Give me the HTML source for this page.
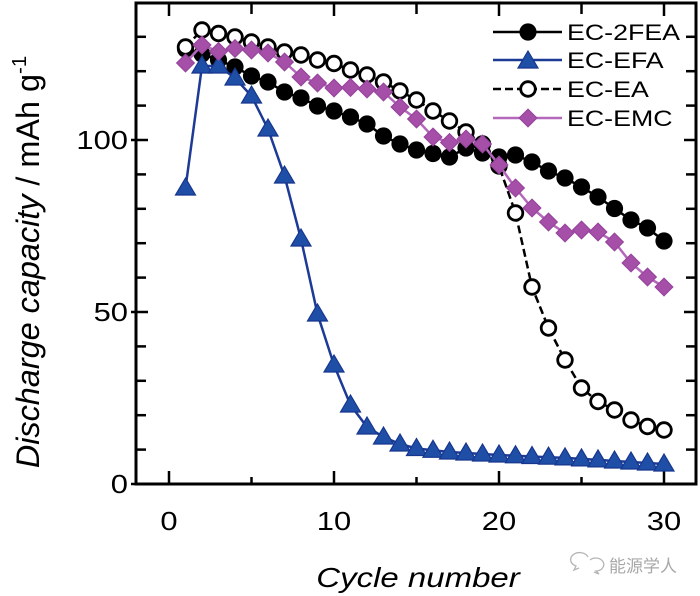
<!DOCTYPE html>
<html><head><meta charset="utf-8"><style>
html,body{margin:0;padding:0;background:#fff;}
svg{display:block;}
text{font-family:"Liberation Sans",Arial,sans-serif;fill:#000;}
</style></head><body>
<svg width="700" height="596" viewBox="0 0 700 596" xmlns="http://www.w3.org/2000/svg">
<defs>
<g id="bc"><circle r="8.6" fill="#000"/></g>
<g id="oc"><circle r="7.3" fill="#fff" stroke="#000" stroke-width="2.8"/></g>
<g id="tr"><polygon points="0,-10 10,7 -10,7" fill="#1f4ea6" stroke="#16368e" stroke-width="1.2"/></g>
<g id="dm"><polygon points="0,-8.8 8.8,0 0,8.8 -8.8,0" fill="#a64fa9" stroke="#97449d" stroke-width="1.2"/></g>
</defs>
<rect x="136" y="3" width="560" height="481" fill="none" stroke="#000" stroke-width="3"/>
<g stroke="#000" stroke-width="2.5">
<line x1="169" y1="484" x2="169" y2="471"/><line x1="251.5" y1="484" x2="251.5" y2="477"/><line x1="334" y1="484" x2="334" y2="471"/><line x1="416.5" y1="484" x2="416.5" y2="477"/><line x1="499" y1="484" x2="499" y2="471"/><line x1="581.5" y1="484" x2="581.5" y2="477"/><line x1="664" y1="484" x2="664" y2="471"/>
<line x1="169" y1="3" x2="169" y2="16"/><line x1="251.5" y1="3" x2="251.5" y2="14"/><line x1="334" y1="3" x2="334" y2="16"/><line x1="416.5" y1="3" x2="416.5" y2="14"/><line x1="499" y1="3" x2="499" y2="16"/><line x1="581.5" y1="3" x2="581.5" y2="14"/><line x1="664" y1="3" x2="664" y2="16"/>
<line x1="131" y1="484" x2="148" y2="484"/><line x1="136" y1="449.6" x2="146" y2="449.6"/><line x1="136" y1="415.2" x2="146" y2="415.2"/><line x1="136" y1="380.8" x2="146" y2="380.8"/><line x1="136" y1="346.4" x2="146" y2="346.4"/><line x1="131" y1="312" x2="148" y2="312"/><line x1="136" y1="277.6" x2="146" y2="277.6"/><line x1="136" y1="243.2" x2="146" y2="243.2"/><line x1="136" y1="208.8" x2="146" y2="208.8"/><line x1="136" y1="174.4" x2="146" y2="174.4"/><line x1="131" y1="140" x2="148" y2="140"/><line x1="136" y1="105.6" x2="146" y2="105.6"/><line x1="136" y1="71.2" x2="146" y2="71.2"/><line x1="136" y1="36.8" x2="146" y2="36.8"/>
<line x1="696" y1="449.6" x2="686" y2="449.6"/><line x1="696" y1="415.2" x2="686" y2="415.2"/><line x1="696" y1="380.8" x2="686" y2="380.8"/><line x1="696" y1="346.4" x2="686" y2="346.4"/><line x1="696" y1="312" x2="684" y2="312"/><line x1="696" y1="277.6" x2="686" y2="277.6"/><line x1="696" y1="243.2" x2="686" y2="243.2"/><line x1="696" y1="208.8" x2="686" y2="208.8"/><line x1="696" y1="174.4" x2="686" y2="174.4"/><line x1="696" y1="140" x2="684" y2="140"/><line x1="696" y1="105.6" x2="686" y2="105.6"/><line x1="696" y1="71.2" x2="686" y2="71.2"/><line x1="696" y1="36.8" x2="686" y2="36.8"/>
</g>
<g font-size="26">
<g transform="translate(128,493) scale(1.19,1)"><text text-anchor="end">0</text></g>
<g transform="translate(128,321) scale(1.19,1)"><text text-anchor="end">50</text></g>
<g transform="translate(128,149) scale(1.19,1)"><text text-anchor="end">100</text></g>
<g transform="translate(169,530) scale(1.19,1)"><text text-anchor="middle">0</text></g>
<g transform="translate(334,530) scale(1.19,1)"><text text-anchor="middle">10</text></g>
<g transform="translate(499,530) scale(1.19,1)"><text text-anchor="middle">20</text></g>
<g transform="translate(664,530) scale(1.19,1)"><text text-anchor="middle">30</text></g>
</g>
<g transform="translate(418,587) scale(1.2,1)"><text text-anchor="middle" font-size="27.5" font-style="italic">Cycle number</text></g>
<g transform="translate(39,262) scale(1.19,1.2) rotate(-90)"><text text-anchor="middle" font-size="27"><tspan font-style="italic">Discharge capacity</tspan> / mAh g<tspan font-size="17" dy="-11">-1</tspan></text></g>
<polyline fill="none" stroke="#000" stroke-width="2.5" points="185.5,49 202,54 218.5,60 235,67 251.5,76 268,82 284.5,92 301,98 317.5,106 334,111 350.5,117 367,124 383.5,136 400,144 416.5,150 433,153.5 449.5,157 466,148 482.5,153 499,157 515.5,155 532,162 548.5,171 565,178 581.5,187 598,197 614.5,208.5 631,220 647.5,228 664,241"/>
<use href="#bc" x="185.5" y="49"/><use href="#bc" x="202" y="54"/><use href="#bc" x="218.5" y="60"/><use href="#bc" x="235" y="67"/><use href="#bc" x="251.5" y="76"/><use href="#bc" x="268" y="82"/><use href="#bc" x="284.5" y="92"/><use href="#bc" x="301" y="98"/><use href="#bc" x="317.5" y="106"/><use href="#bc" x="334" y="111"/><use href="#bc" x="350.5" y="117"/><use href="#bc" x="367" y="124"/><use href="#bc" x="383.5" y="136"/><use href="#bc" x="400" y="144"/><use href="#bc" x="416.5" y="150"/><use href="#bc" x="433" y="153.5"/><use href="#bc" x="449.5" y="157"/><use href="#bc" x="466" y="148"/><use href="#bc" x="482.5" y="153"/><use href="#bc" x="499" y="157"/><use href="#bc" x="515.5" y="155"/><use href="#bc" x="532" y="162"/><use href="#bc" x="548.5" y="171"/><use href="#bc" x="565" y="178"/><use href="#bc" x="581.5" y="187"/><use href="#bc" x="598" y="197"/><use href="#bc" x="614.5" y="208.5"/><use href="#bc" x="631" y="220"/><use href="#bc" x="647.5" y="228"/><use href="#bc" x="664" y="241"/>
<polyline fill="none" stroke="#1c3a96" stroke-width="2.5" points="185.5,188 202,66 218.5,66 235,78 251.5,96 268,129 284.5,176 301,239 317.5,314 334,365 350.5,405 367,427 383.5,437 400,444 416.5,448.5 433,450.3 449.5,452 466,453 482.5,454 499,455 515.5,455.8 532,456.5 548.5,457.2 565,457.9 581.5,458.9 598,459.9 614.5,461 631,462 647.5,463 664,464"/>
<use href="#tr" x="185.5" y="188"/><use href="#tr" x="202" y="66"/><use href="#tr" x="218.5" y="66"/><use href="#tr" x="235" y="78"/><use href="#tr" x="251.5" y="96"/><use href="#tr" x="268" y="129"/><use href="#tr" x="284.5" y="176"/><use href="#tr" x="301" y="239"/><use href="#tr" x="317.5" y="314"/><use href="#tr" x="334" y="365"/><use href="#tr" x="350.5" y="405"/><use href="#tr" x="367" y="427"/><use href="#tr" x="383.5" y="437"/><use href="#tr" x="400" y="444"/><use href="#tr" x="416.5" y="448.5"/><use href="#tr" x="433" y="450.3"/><use href="#tr" x="449.5" y="452"/><use href="#tr" x="466" y="453"/><use href="#tr" x="482.5" y="454"/><use href="#tr" x="499" y="455"/><use href="#tr" x="515.5" y="455.8"/><use href="#tr" x="532" y="456.5"/><use href="#tr" x="548.5" y="457.2"/><use href="#tr" x="565" y="457.9"/><use href="#tr" x="581.5" y="458.9"/><use href="#tr" x="598" y="459.9"/><use href="#tr" x="614.5" y="461"/><use href="#tr" x="631" y="462"/><use href="#tr" x="647.5" y="463"/><use href="#tr" x="664" y="464"/>
<polyline fill="none" stroke="#000" stroke-width="2.5" stroke-dasharray="8,4" points="185.5,47 202,30 218.5,33.5 235,37 251.5,42 268,47 284.5,52 301,55 317.5,60 334,63.5 350.5,70 367,75 383.5,82 400,91 416.5,100 433,111 449.5,121 466,132 482.5,144 499,166 515.5,213 532,287 548.5,328 565,360 581.5,388 598,401.5 614.5,410 631,420 647.5,426.5 664,430"/>
<use href="#oc" x="185.5" y="47"/><use href="#oc" x="202" y="30"/><use href="#oc" x="218.5" y="33.5"/><use href="#oc" x="235" y="37"/><use href="#oc" x="251.5" y="42"/><use href="#oc" x="268" y="47"/><use href="#oc" x="284.5" y="52"/><use href="#oc" x="301" y="55"/><use href="#oc" x="317.5" y="60"/><use href="#oc" x="334" y="63.5"/><use href="#oc" x="350.5" y="70"/><use href="#oc" x="367" y="75"/><use href="#oc" x="383.5" y="82"/><use href="#oc" x="400" y="91"/><use href="#oc" x="416.5" y="100"/><use href="#oc" x="433" y="111"/><use href="#oc" x="449.5" y="121"/><use href="#oc" x="466" y="132"/><use href="#oc" x="482.5" y="144"/><use href="#oc" x="499" y="166"/><use href="#oc" x="515.5" y="213"/><use href="#oc" x="532" y="287"/><use href="#oc" x="548.5" y="328"/><use href="#oc" x="565" y="360"/><use href="#oc" x="581.5" y="388"/><use href="#oc" x="598" y="401.5"/><use href="#oc" x="614.5" y="410"/><use href="#oc" x="631" y="420"/><use href="#oc" x="647.5" y="426.5"/><use href="#oc" x="664" y="430"/>
<polyline fill="none" stroke="#b468bb" stroke-width="2.5" points="185.5,63 202,45 218.5,51.5 235,48.5 251.5,50 268,53 284.5,62 301,77 317.5,83 334,88 350.5,87.5 367,89 383.5,92 400,107 416.5,119 433,137 449.5,142.5 466,139 482.5,144 499,165 515.5,188 532,208 548.5,222 565,233 581.5,230 598,232 614.5,242 631,263 647.5,277 664,287"/>
<use href="#dm" x="185.5" y="63"/><use href="#dm" x="202" y="45"/><use href="#dm" x="218.5" y="51.5"/><use href="#dm" x="235" y="48.5"/><use href="#dm" x="251.5" y="50"/><use href="#dm" x="268" y="53"/><use href="#dm" x="284.5" y="62"/><use href="#dm" x="301" y="77"/><use href="#dm" x="317.5" y="83"/><use href="#dm" x="334" y="88"/><use href="#dm" x="350.5" y="87.5"/><use href="#dm" x="367" y="89"/><use href="#dm" x="383.5" y="92"/><use href="#dm" x="400" y="107"/><use href="#dm" x="416.5" y="119"/><use href="#dm" x="433" y="137"/><use href="#dm" x="449.5" y="142.5"/><use href="#dm" x="466" y="139"/><use href="#dm" x="482.5" y="144"/><use href="#dm" x="499" y="165"/><use href="#dm" x="515.5" y="188"/><use href="#dm" x="532" y="208"/><use href="#dm" x="548.5" y="222"/><use href="#dm" x="565" y="233"/><use href="#dm" x="581.5" y="230"/><use href="#dm" x="598" y="232"/><use href="#dm" x="614.5" y="242"/><use href="#dm" x="631" y="263"/><use href="#dm" x="647.5" y="277"/><use href="#dm" x="664" y="287"/>
<rect x="490" y="16" width="192" height="116" fill="#fff"/>
<line x1="493" y1="32" x2="562" y2="32" stroke="#000" stroke-width="2.5"/><use href="#bc" x="528" y="32"/>
<line x1="493" y1="60" x2="562" y2="60" stroke="#1c3a96" stroke-width="2.5"/><use href="#tr" x="528" y="61"/>
<line x1="493" y1="89" x2="562" y2="89" stroke="#000" stroke-width="2.5" stroke-dasharray="8,4"/><use href="#oc" x="528" y="89"/>
<line x1="493" y1="118" x2="562" y2="118" stroke="#b468bb" stroke-width="2.5"/><use href="#dm" x="528" y="118"/>
<g font-size="22.5">
<g transform="translate(567,40) scale(1.19,1)"><text>EC-2FEA</text></g>
<g transform="translate(567,68) scale(1.19,1)"><text>EC-EFA</text></g>
<g transform="translate(567,97) scale(1.19,1)"><text>EC-EA</text></g>
<g transform="translate(567,126) scale(1.19,1)"><text>EC-EMC</text></g>
</g>
<g fill="none" stroke="#b5b5b5" stroke-width="1.3">
<path d="M588,557 a9,7 0 1,0 -12,9 l-2,4 5,-2"/>
<path d="M590,560 a8,6.5 0 1,1 6,11 l3,3 -5,-2"/>
</g>
<text x="609" y="572" font-size="17" style="font-family:'Liberation Sans','Noto Sans CJK SC',sans-serif;fill:#a8a8a8">能源学人</text>
</svg>
</body></html>
